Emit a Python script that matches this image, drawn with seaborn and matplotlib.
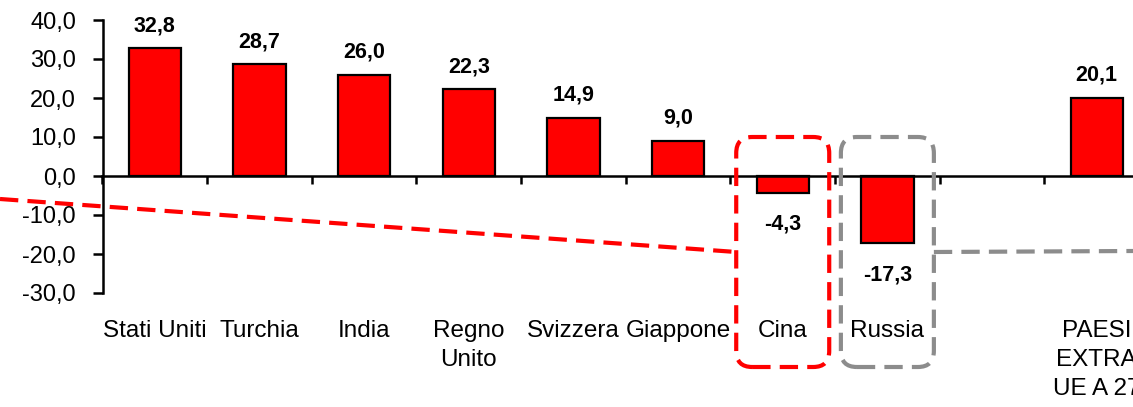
import matplotlib
matplotlib.use("Agg")
import matplotlib.pyplot as plt
import seaborn as sns
import numpy as np
import pandas as pd
from matplotlib.patches import FancyBboxPatch
from matplotlib.lines import Line2D
from matplotlib.transforms import IdentityTransform
from matplotlib.ticker import FixedLocator, FuncFormatter

categories = ["Stati Uniti", "Turchia", "India", "Regno\nUnito", "Svizzera",
              "Giappone", "Cina", "Russia", "", "PAESI\nEXTRA\nUE A 27"]
values = [32.8, 28.7, 26.0, 22.3, 14.9, 9.0, -4.3, -17.3, np.nan, 20.1]
y_ticks = [-30, -20, -10, 0, 10, 20, 30, 40]

sns.set_theme(style="white")
plt.rcParams["font.family"] = ["Liberation Sans", "DejaVu Sans"]

W, H = 1133, 407
fig = plt.figure(figsize=(W / 100, H / 100), dpi=100)
ax = fig.add_axes([102.5 / W, 1 - 293 / H, 1046.5 / W, 273 / H])

df = pd.DataFrame({"cat": categories, "val": values})
sns.barplot(data=df, x="cat", y="val", order=categories, color="#FF0000",
            saturation=1, edgecolor="black", linewidth=1.6, width=0.5,
            errorbar=None, ax=ax)

ax.set_xlim(-0.5, len(categories) - 0.5)
ax.set_ylim(-30, 40)
ax.set_xlabel("")
ax.set_ylabel("")

for s in ["top", "right"]:
    ax.spines[s].set_visible(False)
ax.spines["left"].set_linewidth(1.8)
ax.spines["left"].set_color("black")
ax.spines["bottom"].set_position(("data", 0))
ax.spines["bottom"].set_linewidth(1.8)
ax.spines["bottom"].set_color("black")

ax.yaxis.set_major_locator(FixedLocator(y_ticks))
ax.yaxis.set_major_formatter(FuncFormatter(lambda v, p: f"{v:.1f}".replace(".", ",")))
ax.tick_params(axis="y", which="major", left=True, direction="out", length=7,
               width=1.8, color="black", pad=12, labelsize=17, labelcolor="black")

ax.set_xticks(np.arange(len(categories)))
ax.set_xticks(np.arange(len(categories) + 1) - 0.5, minor=True)
ax.tick_params(axis="x", which="major", bottom=True, length=0, pad=104,
               labelsize=17.5, labelcolor="black")
ax.tick_params(axis="x", which="minor", bottom=True, direction="out", length=6,
               width=1.8, color="black")
for lbl in ax.get_xticklabels():
    lbl.set_verticalalignment("top")
    lbl.set_linespacing(1.4)

for i, v in enumerate(values):
    if np.isnan(v):
        continue
    off = 8.6 if v >= 0 else -15
    ax.annotate(f"{v:.1f}".replace(".", ","), xy=(i, v), xytext=(0, off),
                textcoords="offset points", ha="center",
                va="bottom" if v >= 0 else "top",
                fontsize=15.5, fontweight="bold", color="black")

fig.canvas.draw()
def xpix(i):
    return ax.transData.transform((i, 0))[0]

dash = (0, (4.4, 2.2))
box_half = 46.5
top_px, bot_px = H - 137, H - 367
for idx, col in [(6, "#FF0000"), (7, "#8C8C8C")]:
    cx = xpix(idx)
    p = FancyBboxPatch((cx - box_half, bot_px), 2 * box_half, top_px - bot_px,
                       boxstyle="round,pad=0,rounding_size=16",
                       transform=IdentityTransform(), fill=False,
                       edgecolor=col, linewidth=3, linestyle=dash, clip_on=False)
    fig.add_artist(p)

cina_left = xpix(6) - box_half
russia_right = xpix(7) + box_half
fig.add_artist(Line2D([0, cina_left], [H - 199, H - 252], transform=IdentityTransform(),
                      color="#FF0000", linewidth=3, linestyle=dash))
fig.add_artist(Line2D([russia_right, W], [H - 252, H - 251], transform=IdentityTransform(),
                      color="#8C8C8C", linewidth=3, linestyle=dash))

fig.savefig("out.png", dpi=100, facecolor="white")
